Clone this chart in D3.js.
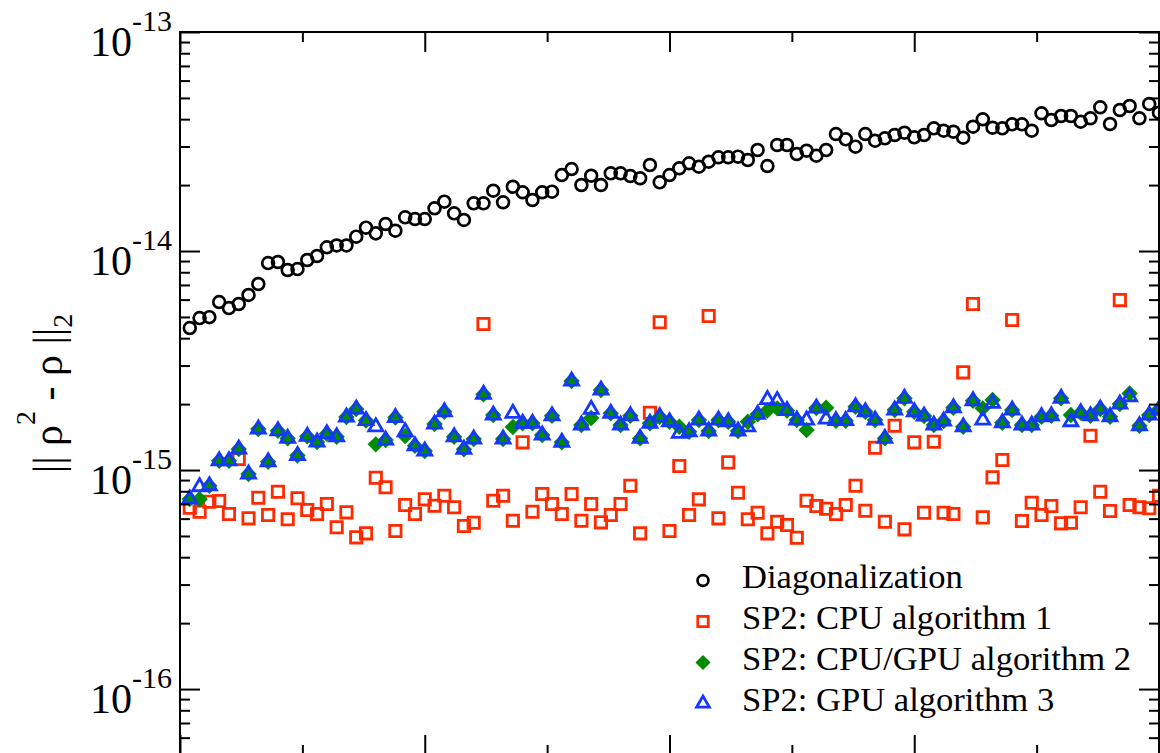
<!DOCTYPE html>
<html>
<head>
<meta charset="utf-8">
<script src="https://cdn.jsdelivr.net/npm/d3@7"></script>
<style>
  html, body { margin: 0; padding: 0; background: #fff; }
  svg { display: block; font-family: "Liberation Serif", "Times New Roman", serif; }
</style>
</head>
<body>
<svg id="chart" width="1160" height="753"></svg>
<script>
// Step index along the horizontal axis
const steps = d3.range(1, 101);

// All error norms below are given in units of 1e-15
const UNIT = 1e-15;

const diagonalization = [
  4.45, 4.94, 4.99, 5.85, 5.49, 5.73, 6.30, 7.07, 8.81, 8.91,
  8.19, 8.27, 9.10, 9.49, 10.4, 10.6, 10.6, 11.63, 12.78, 12.04,
  13.28, 12.38, 14.25, 14.00, 14.00, 15.67, 16.80, 14.86, 13.86, 16.51,
  16.51, 18.85, 16.69, 19.66, 18.54, 17.10, 18.54, 18.66, 22.23, 23.68,
  20.02, 22.07, 20.02, 22.63, 22.63, 22.00, 21.48, 24.70, 20.59, 22.23,
  23.86, 25.15, 24.26, 25.57, 26.79, 26.79, 26.96, 26.04, 28.92, 24.44,
  30.48, 30.48, 27.73, 28.71, 27.24, 28.92, 34.21, 32.36, 29.95, 34.21,
  31.89, 32.70, 33.86, 34.69, 33.05, 33.86, 36.33, 35.42, 35.05, 32.91,
  36.95, 39.94, 36.56, 36.33, 37.89, 37.89, 35.42, 42.55, 39.65, 41.35,
  41.35, 38.94, 40.36, 45.32, 38.01, 44.04, 45.94, 40.36, 46.92, 42.81
];

const cpuAlgorithm1 = [
  0.673, 0.645, 0.717, 0.722, 0.630, 1.123, 0.602, 0.747, 0.623, 0.796,
  0.596, 0.743, 0.657, 0.630, 0.700, 0.548, 0.641, 0.493, 0.514, 0.922,
  0.834, 0.527, 0.692, 0.630, 0.735, 0.687, 0.763, 0.676, 0.555, 0.575,
  4.64, 0.724, 0.763, 0.587, 1.338, 0.645, 0.777, 0.700, 0.630, 0.777,
  0.587, 0.700, 0.577, 0.623, 0.700, 0.848, 0.514, 1.826, 4.73, 0.527,
  1.043, 0.623, 0.735, 5.05, 0.602, 1.084, 0.788, 0.596, 0.638, 0.514,
  0.581, 0.561, 0.491, 0.724, 0.685, 0.666, 0.630, 0.692, 0.848, 0.652,
  1.264, 0.581, 1.593, 0.536, 1.338, 0.638, 1.346, 0.638, 0.630, 2.793,
  5.73, 0.608, 0.926, 1.111, 4.84, 0.585, 0.709, 0.623, 0.685, 0.571,
  0.575, 0.676, 1.434, 0.796, 0.650, 5.97, 0.692, 0.676, 0.669, 0.763
];

const cpuGpuAlgorithm2 = [
  0.737, 0.735, 0.848, 1.103, 1.103, 1.247, 0.959, 1.539, 1.091, 1.512,
  1.395, 1.165, 1.425, 1.342, 1.465, 1.419, 1.746, 1.899, 1.683, 1.310,
  1.371, 1.737, 1.430, 1.291, 1.221, 1.622, 1.846, 1.419, 1.243, 1.385,
  2.216, 1.783, 1.385, 1.571, 1.634, 1.634, 1.445, 1.769, 1.338, 2.549,
  1.605, 1.728, 2.319, 1.815, 1.605, 1.769, 1.395, 1.634, 1.752, 1.662,
  1.576, 1.496, 1.692, 1.507, 1.692, 1.662, 1.507, 1.662, 1.796, 1.869,
  1.913, 1.869, 1.692, 1.522, 1.919, 1.925, 1.680, 1.680, 1.945, 1.846,
  1.692, 1.395, 1.879, 2.125, 1.846, 1.764, 1.605, 1.674, 1.925, 1.576,
  2.072, 1.913, 2.087, 1.644, 1.879, 1.605, 1.605, 1.752, 1.769, 2.125,
  1.783, 1.826, 1.769, 1.899, 1.752, 2.001, 2.239, 1.593, 1.783, 1.893
];

const gpuAlgorithm3 = [
  0.737, 0.839, 0.848, 1.103, 1.103, 1.247, 0.959, 1.539, 1.091, 1.512,
  1.395, 1.165, 1.425, 1.342, 1.465, 1.419, 1.746, 1.899, 1.683, 1.576,
  1.371, 1.737, 1.496, 1.291, 1.221, 1.622, 1.846, 1.419, 1.243, 1.385,
  2.216, 1.783, 1.385, 1.815, 1.634, 1.634, 1.445, 1.769, 1.338, 2.549,
  1.605, 1.893, 2.319, 1.815, 1.605, 1.769, 1.395, 1.634, 1.752, 1.662,
  1.471, 1.496, 1.692, 1.507, 1.692, 1.662, 1.507, 1.576, 1.796, 2.099,
  2.077, 1.869, 1.692, 1.692, 1.919, 1.710, 1.680, 1.680, 1.945, 1.846,
  1.692, 1.395, 1.879, 2.125, 1.846, 1.764, 1.605, 1.674, 1.925, 1.576,
  2.072, 1.692, 2.016, 1.644, 1.879, 1.605, 1.605, 1.752, 1.769, 2.125,
  1.662, 1.826, 1.769, 1.899, 1.752, 2.001, 2.161, 1.593, 1.783, 1.893
];

const yMajorTicks = [1e-16, 1e-15, 1e-14, 1e-13];
const xMajorTicks = [0, 25, 50, 75, 100];
const xMinorTicks = [12.5, 37.5, 62.5, 87.5];
const legendLabels = [
  "Diagonalization",
  "SP2: CPU algorithm 1",
  "SP2: CPU/GPU algorithm 2",
  "SP2: GPU algorithm 3"
];

// ---- layout ----
const svg = d3.select("#chart");
const frame = { left: 180, right: 1159, top: 32, bottom: 755 };

const x = d3.scaleLinear().domain([0, 100]).range([frame.left, frame.right]);
const y = d3.scaleLog().domain([5e-17, 1e-13]).range([frame.bottom, frame.top]);

const isDecade = v => Math.abs(Math.log10(v) - Math.round(Math.log10(v))) < 1e-6;
const yMinorTicks = y.ticks().filter(v => !isDecade(v));

const MAJOR = 20, MINOR = 10;

function styleAxis(g) {
  g.select(".domain").remove();
  g.selectAll(".tick line").attr("stroke", "#000").attr("stroke-width", 2);
}

// ---- series markers ----
const series = [
  { values: diagonalization, symbol: d3.symbolCircle, size: 110, rotate: 0,
    fill: "none", stroke: "#000000", width: 2.7 },
  { values: cpuAlgorithm1, symbol: d3.symbolSquare, size: 128, rotate: 0,
    fill: "none", stroke: "#ff2a00", width: 2.8 },
  { values: cpuGpuAlgorithm2, symbol: d3.symbolSquare, size: 135, rotate: 45,
    fill: "#008c00", stroke: "none", width: 0 },
  { values: gpuAlgorithm3, symbol: d3.symbolTriangle, size: 84, rotate: 0,
    fill: "none", stroke: "#1438ff", width: 2.8 }
];

const marks = svg.append("g");
series.forEach(s => {
  const path = d3.symbol().type(s.symbol).size(s.size)();
  marks.append("g")
    .selectAll("path")
    .data(steps.map((step, i) => ({ step, v: s.values[i] * UNIT })))
    .join("path")
      .attr("d", path)
      .attr("transform", d => `translate(${x(d.step)},${y(d.v)}) rotate(${s.rotate})`)
      .attr("fill", s.fill)
      .attr("stroke", s.stroke)
      .attr("stroke-width", s.width);
});

// ---- axes (ticks point inward on all four sides) ----
svg.append("g").attr("transform", `translate(${frame.left},0)`)
  .call(d3.axisLeft(y).tickValues(yMinorTicks).tickSizeInner(-MINOR).tickSizeOuter(0).tickFormat(""))
  .call(styleAxis);
svg.append("g").attr("transform", `translate(${frame.right},0)`)
  .call(d3.axisRight(y).tickValues(yMinorTicks).tickSizeInner(-MINOR).tickSizeOuter(0).tickFormat(""))
  .call(styleAxis);
svg.append("g").attr("transform", `translate(${frame.right},0)`)
  .call(d3.axisRight(y).tickValues(yMajorTicks).tickSizeInner(-MAJOR).tickSizeOuter(0).tickFormat(""))
  .call(styleAxis);

const yLabels = svg.append("g").attr("transform", `translate(${frame.left},0)`)
  .call(d3.axisLeft(y).tickValues(yMajorTicks).tickSizeInner(-MAJOR).tickSizeOuter(0).tickPadding(8))
  .call(styleAxis)
  .attr("font-family", null).attr("font-size", null);

yLabels.selectAll(".tick text").each(function (d) {
  const t = d3.select(this);
  const exponent = Math.round(Math.log10(d));
  t.text(null).attr("dy", null).attr("y", 23).attr("fill", "#000").attr("font-size", 42);
  t.append("tspan").text("10");
  t.append("tspan").attr("dy", -25).attr("font-size", 30).text(String(exponent));
});

[["axisTop", frame.top], ["axisBottom", frame.bottom]].forEach(([fn, pos]) => {
  svg.append("g").attr("transform", `translate(0,${pos})`)
    .call(d3[fn](x).tickValues(xMajorTicks).tickSizeInner(-MAJOR).tickSizeOuter(0).tickFormat(""))
    .call(styleAxis);
  svg.append("g").attr("transform", `translate(0,${pos})`)
    .call(d3[fn](x).tickValues(xMinorTicks).tickSizeInner(-MINOR).tickSizeOuter(0).tickFormat(""))
    .call(styleAxis);
});

svg.append("rect")
  .attr("x", frame.left).attr("y", frame.top)
  .attr("width", frame.right - frame.left).attr("height", frame.bottom - frame.top)
  .attr("fill", "none").attr("stroke", "#000").attr("stroke-width", 2);

// ---- y-axis title ----
const title = svg.append("text")
  .attr("transform", `translate(62,${(frame.top + frame.bottom) / 2}) rotate(-90)`)
  .attr("text-anchor", "middle")
  .attr("font-size", 42)
  .attr("fill", "#000");
title.append("tspan").text("|| \u03C1");
title.append("tspan").attr("dy", -27).attr("font-size", 28).text("2");
title.append("tspan").attr("dy", 27).text(" - \u03C1 ||");
title.append("tspan").attr("dy", 10).attr("font-size", 28).text("2");

// ---- legend ----
const legend = svg.append("g");
legendLabels.forEach((label, i) => {
  const s = series[i];
  const cy = 580.5 + 41 * i;
  legend.append("path")
    .attr("d", d3.symbol().type(s.symbol).size(s.size * 0.85)())
    .attr("transform", `translate(703,${cy}) rotate(${s.rotate})`)
    .attr("fill", s.fill)
    .attr("stroke", s.stroke)
    .attr("stroke-width", s.width);
  legend.append("text")
    .attr("x", 742).attr("y", cy + 7.5)
    .attr("font-size", 34.6)
    .attr("fill", "#000")
    .text(label);
});
</script>
</body>
</html>
